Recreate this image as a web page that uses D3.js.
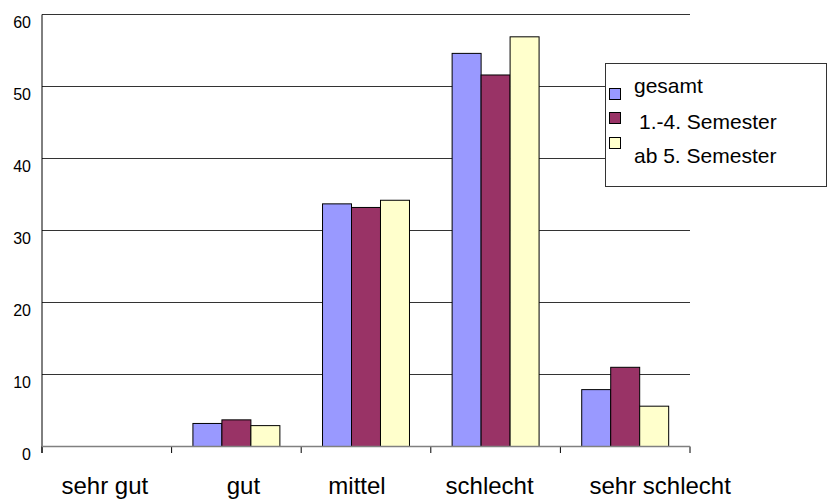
<!DOCTYPE html>
<html>
<head>
<meta charset="utf-8">
<script src="https://cdn.jsdelivr.net/npm/d3@7/dist/d3.min.js"></script>
<style>
  html, body { margin: 0; padding: 0; background: #fff; }
  svg { display: block; font-family: "Liberation Sans", Arial, sans-serif; }
</style>
</head>
<body>
<svg id="chart" width="832" height="499"></svg>
<script>
// Ratings of the study situation, in percent
const categories = ["sehr gut", "gut", "mittel", "schlecht", "sehr schlecht"];
const seriesNames = ["gesamt", "1.-4. Semester", "ab 5. Semester"];
const gesamt   = [0, 3.2, 33.7, 54.6, 7.9];
const sem1bis4 = [0, 3.7, 33.2, 51.6, 11.0];
const ab5      = [0, 2.9, 34.2, 56.9, 5.6];
const yTicks   = [0, 10, 20, 30, 40, 50, 60];
const colors   = ["#9999FF", "#993366", "#FFFFCC"];

const series = [gesamt, sem1bis4, ab5];

const svg = d3.select("#chart");
const plotLeft = 42, plotRight = 690, plotTop = 14.5, plotBottom = 446.5;

const y = d3.scaleLinear().domain([0, 60]).range([plotBottom, plotTop]);
const pad = 0.329;
const x = d3.scaleBand().domain(categories).range([plotLeft, plotRight])
  .paddingInner(pad).paddingOuter(pad / 2);
const x1 = d3.scaleBand().domain(seriesNames).range([0, x.bandwidth()]);

// horizontal gridlines
svg.append("g").selectAll("line").data(yTicks).join("line")
  .attr("x1", plotLeft).attr("x2", plotRight)
  .attr("y1", d => y(d)).attr("y2", d => y(d))
  .attr("stroke", d => d === 0 ? "#808080" : "#333").attr("stroke-width", 1);

// y tick labels
svg.append("g").selectAll("text").data(yTicks).join("text")
  .attr("x", 31).attr("y", d => y(d) + 8)
  .attr("dy", "0.36em")
  .attr("text-anchor", "end")
  .attr("font-size", 16)
  .attr("fill", "#000")
  .text(d => d);

// bars
const groups = svg.append("g").selectAll("g").data(categories).join("g")
  .attr("transform", d => `translate(${x(d)},0)`);
groups.selectAll("rect")
  .data((c, i) => series.map((s, j) => ({ name: seriesNames[j], v: s[i], j })))
  .join("rect")
  .filter(d => d.v > 0)
  .attr("x", d => x1(d.name))
  .attr("width", x1.bandwidth())
  .attr("y", d => y(d.v))
  .attr("height", d => y(0) - y(d.v))
  .attr("fill", d => colors[d.j])
  .attr("stroke", "#000")
  .attr("stroke-width", 1);

// axis lines and category tick marks
svg.append("line").attr("x1", plotLeft).attr("x2", plotLeft)
  .attr("y1", plotTop).attr("y2", plotBottom + 6.5)
  .attr("stroke", "#000").attr("stroke-width", 1);
const boundaries = d3.range(categories.length + 1).map(i => plotLeft + i * x.step());
svg.append("g").selectAll("line").data(boundaries).join("line")
  .attr("x1", d => d).attr("x2", d => d)
  .attr("y1", plotBottom).attr("y2", plotBottom + 6.5)
  .attr("stroke", "#000").attr("stroke-width", 1);
svg.append("line").attr("x1", plotLeft).attr("x2", plotRight)
  .attr("y1", plotBottom).attr("y2", plotBottom)
  .attr("stroke", "#808080").attr("stroke-width", 1.5);

// category labels (small horizontal nudges keep the long last label clear of the axis end)
const labelNudge = [-2, 7, -9, -6, 35];
svg.append("g").selectAll("text").data(categories).join("text")
  .attr("x", (d, i) => x(d) + x.bandwidth() / 2 + labelNudge[i])
  .attr("y", 494)
  .attr("text-anchor", "middle")
  .attr("font-size", 24)
  .attr("fill", "#000")
  .text(d => d);

// legend
const lg = svg.append("g");
lg.append("rect").attr("x", 605.5).attr("y", 63.5).attr("width", 221).attr("height", 123)
  .attr("fill", "#fff").attr("stroke", "#333").attr("stroke-width", 1);
const legendY = [93, 129, 163];
const swatchY = [88, 112, 137];
const textX = [634, 639, 634];
seriesNames.forEach((n, i) => {
  lg.append("rect").attr("x", 609.5).attr("y", swatchY[i] + 0.5)
    .attr("width", 11).attr("height", 11)
    .attr("fill", colors[i]).attr("stroke", "#000").attr("stroke-width", 1);
  lg.append("text").attr("x", textX[i]).attr("y", legendY[i])
    .attr("font-size", 21).attr("fill", "#000").text(n);
});
</script>
</body>
</html>
